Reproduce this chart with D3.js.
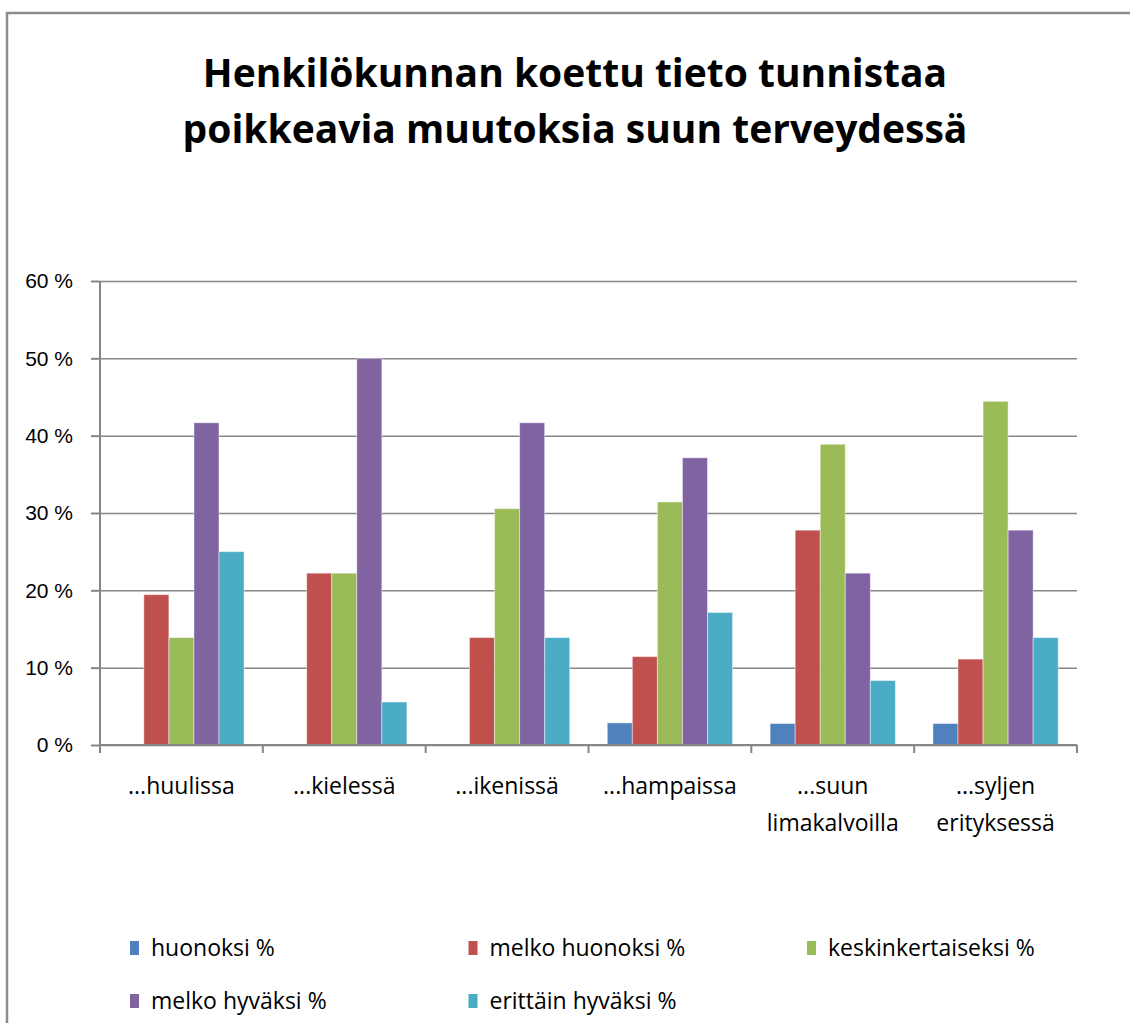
<!DOCTYPE html>
<html>
<head>
<meta charset="utf-8">
<script src="https://cdn.jsdelivr.net/npm/d3@7"></script>
<style>
  body { margin: 0; background: #fff; }
  svg { display: block; font-family: 'Open Sans', sans-serif; }
  .axis path, .axis line { stroke: #868686; }
  .axis text { fill: #000; font-size: 21px; }
  .axis .cat { font-size: 23px; }
</style>
</head>
<body>
<div id="chart"></div>
<script>
const categories = ['...huulissa', '...kielessä', '...ikenissä', '...hampaissa', '...suun limakalvoilla', '...syljen erityksessä'];
const categoryLines = [['...huulissa'], ['...kielessä'], ['...ikenissä'], ['...hampaissa'], ['...suun', 'limakalvoilla'], ['...syljen', 'erityksessä']];
const seriesNames = ['huonoksi %', 'melko huonoksi %', 'keskinkertaiseksi %', 'melko hyväksi %', 'erittäin hyväksi %'];
const huonoksi = [0, 0, 0, 2.86, 2.78, 2.78];
const melkoHuonoksi = [19.44, 22.22, 13.89, 11.43, 27.78, 11.11];
const keskinkertaiseksi = [13.89, 22.22, 30.56, 31.43, 38.89, 44.44];
const melkoHyvaksi = [41.67, 50, 41.67, 37.14, 22.22, 27.78];
const erittainHyvaksi = [25, 5.56, 13.89, 17.14, 8.33, 13.89];
const yTicks = [0, 10, 20, 30, 40, 50, 60];
const titleLines = ['Henkilökunnan koettu tieto tunnistaa', 'poikkeavia muutoksia suun terveydessä'];

const colors = ['#4f81bd', '#c0504d', '#9bbb59', '#8064a2', '#4bacc6'];
const seriesValues = [huonoksi, melkoHuonoksi, keskinkertaiseksi, melkoHyvaksi, erittainHyvaksi];

const width = 1130, height = 1023;
const plotLeft = 100, plotRight = 1077, plotTop = 281, plotBottom = 745;

const svg = d3.select('#chart').append('svg')
  .attr('width', width)
  .attr('height', height);

// chart frame (only top and left edges are in view)
svg.append('path')
  .attr('d', `M 7 ${height} V 13 H ${width}`)
  .attr('fill', 'none')
  .attr('stroke', '#8c8c8c')
  .attr('stroke-width', 2.5);

// title
const title = svg.append('text')
  .attr('text-anchor', 'middle')
  .attr('font-weight', 'bold')
  .attr('font-size', 39)
  .attr('fill', '#000');
title.selectAll('tspan').data(titleLines).enter()
  .append('tspan')
  .attr('x', 575)
  .attr('y', (d, i) => 87 + i * 56)
  .text(d => d);

const x = d3.scaleBand().domain(categories).range([plotLeft, plotRight]);
const xs = d3.scaleBand().domain(seriesNames).range([0, x.bandwidth()]).paddingInner(0).paddingOuter(0.75);
const y = d3.scaleLinear().domain([0, 60]).range([plotBottom, plotTop]);

// gridlines
svg.append('g')
  .attr('class', 'axis grid')
  .attr('transform', `translate(${plotLeft},0)`)
  .call(d3.axisLeft(y).tickValues(yTicks).tickSize(-(plotRight - plotLeft)).tickFormat(''))
  .call(g => g.select('.domain').remove())
  .selectAll('line').attr('stroke-width', 1.5);

// bars
const groups = svg.append('g').selectAll('g')
  .data(seriesValues).enter()
  .append('g')
  .attr('fill', (d, i) => colors[i]);
groups.selectAll('rect')
  .data((vals, si) => vals.map((v, ci) => ({ v, c: categories[ci], s: seriesNames[si] })))
  .enter().append('rect')
  .attr('x', d => x(d.c) + xs(d.s))
  .attr('width', xs.bandwidth())
  .attr('y', d => y(d.v))
  .attr('height', d => y(0) - y(d.v))
  .attr('stroke', 'rgba(255,255,255,0.45)')
  .attr('stroke-width', 1);

// y axis
svg.append('g')
  .attr('class', 'axis axis-y')
  .attr('transform', `translate(${plotLeft},0)`)
  .call(d3.axisLeft(y).tickValues(yTicks).tickSize(9).tickSizeOuter(0).tickPadding(18).tickFormat(d => d + ' %'))
  .call(g => g.select('.domain').attr('d', `M0,${plotTop}V${plotBottom + 7}`))
  .selectAll('line, path').attr('stroke-width', 2);

// x axis line with ticks at category boundaries
const xAxis = svg.append('g').attr('class', 'axis axis-x');
xAxis.append('line')
  .attr('x1', plotLeft).attr('x2', plotRight)
  .attr('y1', y(0)).attr('y2', y(0))
  .attr('stroke-width', 2);
const bounds = categories.map(c => x(c)).concat([plotRight]);
xAxis.selectAll('.tick-b').data(bounds).enter()
  .append('line')
  .attr('class', 'tick-b')
  .attr('x1', d => d).attr('x2', d => d)
  .attr('y1', y(0)).attr('y2', y(0) + 8)
  .attr('stroke-width', 2);
const labels = xAxis.selectAll('.cat').data(categoryLines).enter()
  .append('text')
  .attr('class', 'cat')
  .attr('text-anchor', 'middle');
labels.selectAll('tspan').data((d, i) => d.map(t => ({ t, i }))).enter()
  .append('tspan')
  .attr('x', d => x(categories[d.i]) + x.bandwidth() / 2)
  .attr('y', (d, j) => 794 + j * 37)
  .text(d => d.t);

// legend
const legend = svg.append('g').selectAll('g')
  .data(seriesNames).enter()
  .append('g')
  .attr('transform', (d, i) => `translate(${130 + (i % 3) * 338.5},${948 + Math.floor(i / 3) * 53})`);
legend.append('rect')
  .attr('x', 0).attr('y', -7)
  .attr('width', 9).attr('height', 14)
  .attr('fill', (d, i) => colors[i]);
legend.append('text')
  .attr('x', 21)
  .attr('dy', '0.35em')
  .attr('font-size', 23)
  .text(d => d);
</script>
</body>
</html>
